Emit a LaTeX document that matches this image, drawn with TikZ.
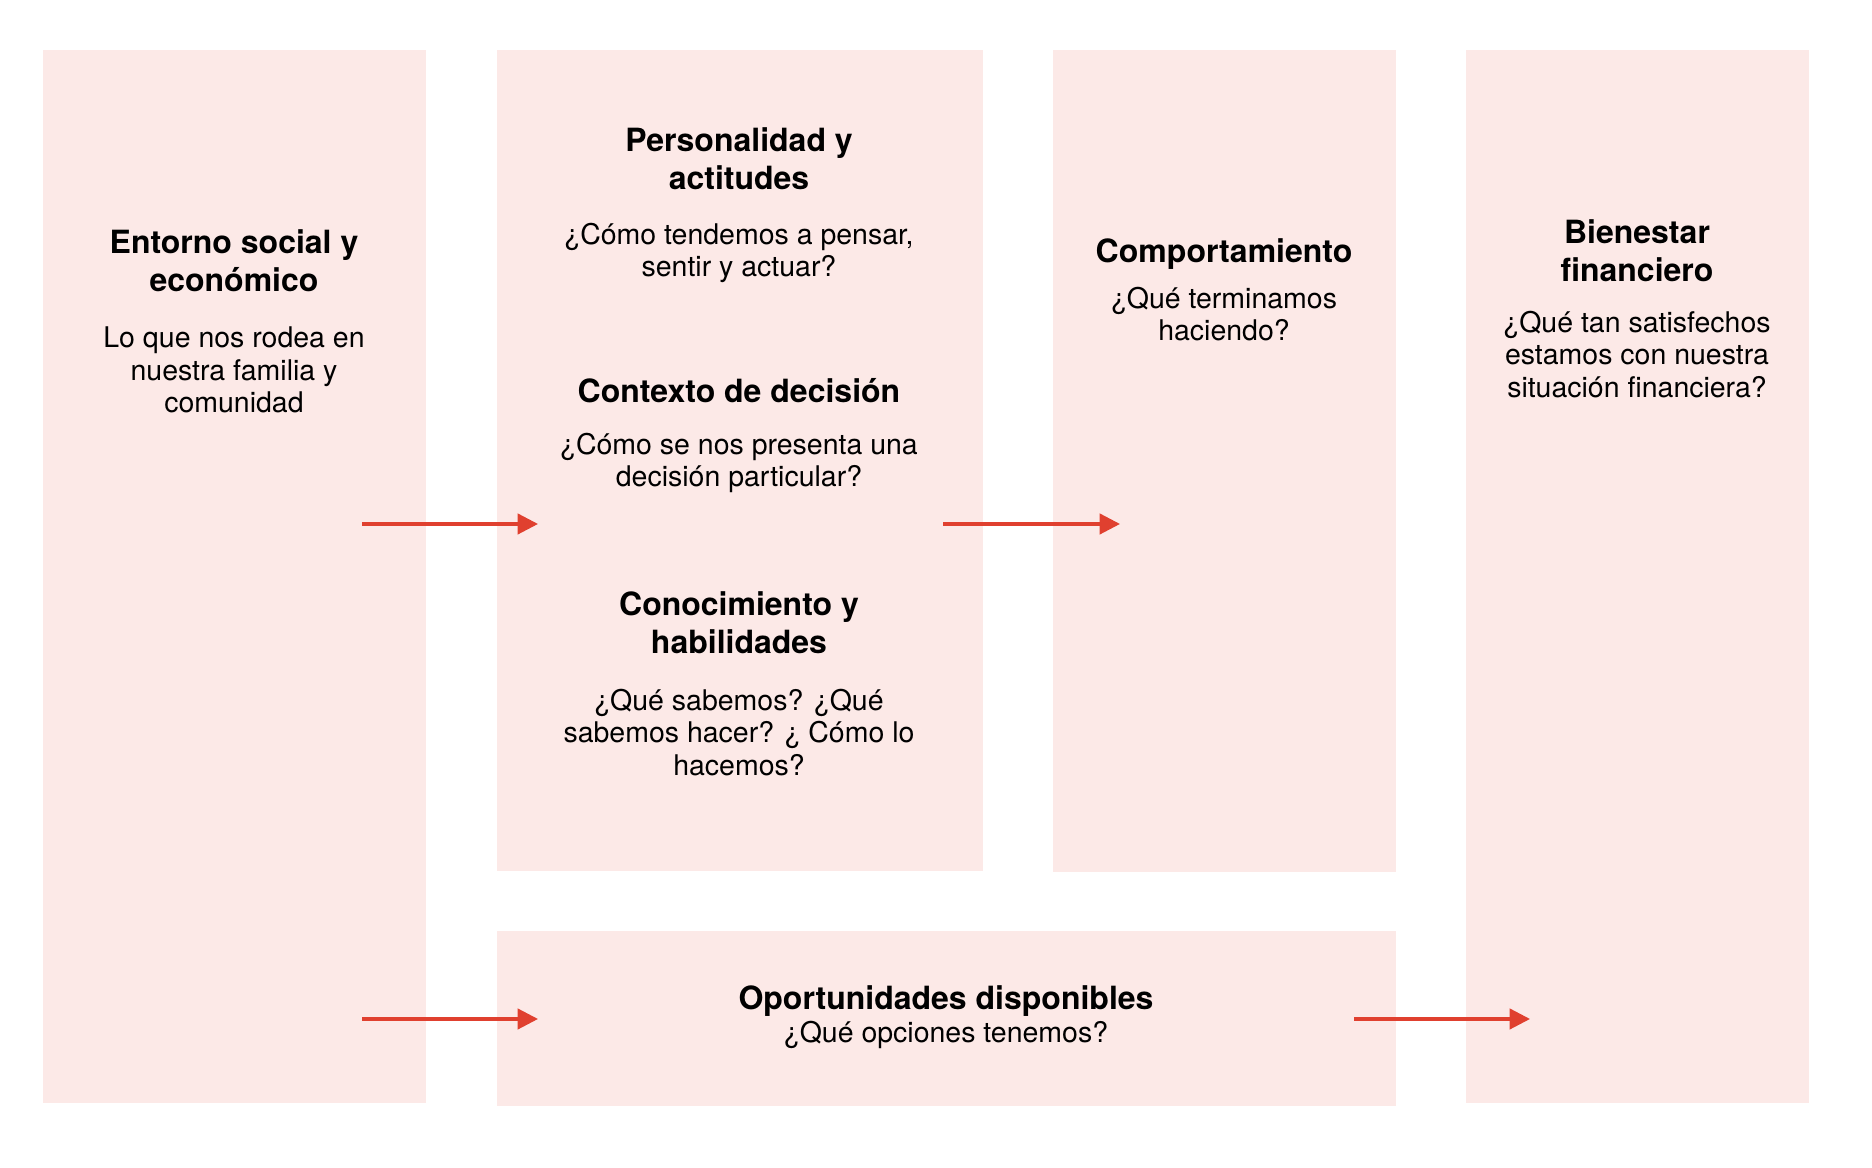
\documentclass[tikz,border=0pt]{standalone}
\usepackage{fontspec}
\setmainfont{TeX Gyre Heros}
\usetikzlibrary{arrows.meta}
\definecolor{panelpink}{HTML}{FCE9E7}
\definecolor{arrowred}{HTML}{E0402F}
\newcommand{\ttlfont}{\fontsize{9.1}{10.8}\selectfont\bfseries}
\newcommand{\txtfont}{\fontsize{8.1}{9.2}\selectfont}

\begin{document}
\begin{tikzpicture}[x=0.01cm,y=-0.01cm,
  panel/.style={fill=panelpink, inner sep=0pt},
  ttl/.style={align=center, inner sep=0pt, font=\ttlfont},
  txt/.style={align=center, inner sep=0pt, font=\txtfont},
  flow/.style={draw=arrowred, line width=0.9pt, -{Triangle[length=5.8pt,width=5.8pt]}}]
\useasboundingbox (0,0) rectangle (1872,1168);
\node[panel, minimum width=3.83cm, minimum height=10.53cm] (entorno) at (234.5,576.5) {};
\node[panel, minimum width=4.86cm, minimum height=8.21cm] (factores) at (740,460.5) {};
\node[panel, minimum width=3.43cm, minimum height=8.22cm] (comport) at (1224.5,461) {};
\node[panel, minimum width=3.43cm, minimum height=10.53cm] (bienestar) at (1637.5,576.5) {};
\node[panel, minimum width=8.99cm, minimum height=1.75cm] (oportun) at (946.5,1018.5) {};

\node[ttl] (entornoT) at (234,261) {Entorno social y\\económico};
\node[txt] (entornoB) at (234,370) {Lo que nos rodea en\\nuestra familia y\\comunidad};

\node[ttl] (persT) at (739,159) {Personalidad y\\actitudes};
\node[txt] (persB) at (739,253) {¿Cómo tendemos a pensar,\\sentir y actuar?};
\node[ttl] (contT) at (739,391) {Contexto de decisión};
\node[txt] (contB) at (739,463) {¿Cómo se nos presenta una\\decisión particular?};
\node[ttl] (conoT) at (739,623) {Conocimiento y\\habilidades};
\node[txt] (conoB) at (739,732.5) {¿Qué sabemos? ¿Qué\\sabemos hacer? ¿ Cómo lo\\hacemos?};

\node[ttl] (compT) at (1224,254) {Comportamiento};
\node[txt] (compB) at (1224,314) {¿Qué terminamos\\haciendo?};

\node[ttl] (bienT) at (1637,251) {Bienestar\\financiero};
\node[txt] (bienB) at (1637,354.5) {¿Qué tan satisfechos\\estamos con nuestra\\situación financiera?};

\node[ttl] (oporT) at (946,1001) {Oportunidades disponibles};
\node[txt] (oporB) at (946,1035) {¿Qué opciones tenemos?};

\coordinate (a1) at (362,524);
\coordinate (b1) at (538,524);
\coordinate (a2) at (943,524);
\coordinate (b2) at (1120,524);
\coordinate (a3) at (362,1019);
\coordinate (b3) at (538,1019);
\coordinate (a4) at (1354,1019);
\coordinate (b4) at (1530,1019);
\draw[flow] (a1) -- (b1);
\draw[flow] (a2) -- (b2);
\draw[flow] (a3) -- (b3);
\draw[flow] (a4) -- (b4);
\end{tikzpicture}
\end{document}
